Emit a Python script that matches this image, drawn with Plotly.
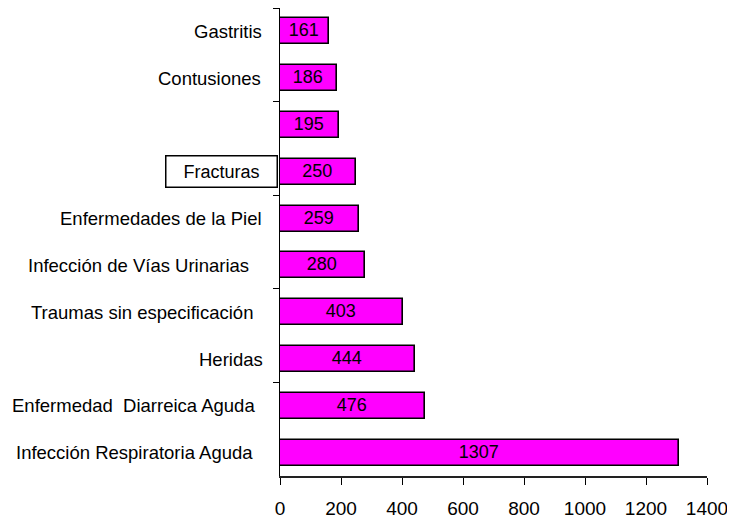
import plotly.graph_objects as go

# Data (top to bottom as displayed)
categories = [
    "Gastritis",
    "Contusiones",
    "",
    "Fracturas",
    "Enfermedades de la Piel",
    "Infección de Vías Urinarias",
    "Traumas sin especificación",
    "Heridas",
    "Enfermedad  Diarreica Aguda",
    "Infección Respiratoria Aguda",
]
values = [161, 186, 195, 250, 259, 280, 403, 444, 476, 1307]
x_ticks = [0, 200, 400, 600, 800, 1000, 1200, 1400]

# style: right-edge gap (px) of each category label from the axis
label_gap = [18, 19, 0, 2, 18, 31, 27, 17, 25, 27]
boxed = "Fracturas"

n = len(categories)
ypos = [n - 1 - i for i in range(n)]  # bottom-based positions

FONT = "Liberation Sans, Arial, sans-serif"

fig = go.Figure()
fig.add_trace(go.Bar(
    x=values, y=ypos, orientation="h",
    width=0.555,
    marker=dict(color="#FF00FF", line=dict(color="black", width=1.6)),
    text=[str(v) for v in values],
    textposition="inside", insidetextanchor="middle",
    textangle=0, constraintext="none",
    textfont=dict(family=FONT, size=18, color="black"),
    hoverinfo="skip",
))
# invisible trace to carry the secondary y axis for the category tick marks
fig.add_trace(go.Scatter(x=[None], y=[None], yaxis="y2", showlegend=False))

annotations = []
for cat, y, gap in zip(categories, ypos, label_gap):
    if not cat:
        continue
    if cat == boxed:
        annotations.append(dict(
            x=0, y=y, xref="x", yref="y", text=cat, showarrow=False,
            xanchor="right", yanchor="middle", xshift=-gap,
            font=dict(family=FONT, size=18, color="black"),
            bordercolor="black", borderwidth=1.5, borderpad=2,
            width=106, height=26, align="center", bgcolor="white",
        ))
    else:
        annotations.append(dict(
            x=0, y=y, xref="x", yref="y", text=cat, showarrow=False,
            xanchor="right", yanchor="middle", xshift=-gap + 2,
            font=dict(family=FONT, size=18.5, color="black"),
        ))

fig.update_layout(
    width=727, height=510,
    margin=dict(l=272, r=28, t=0, b=42, autoexpand=False),
    paper_bgcolor="white", plot_bgcolor="white",
    showlegend=False,
    bargap=0,
    font=dict(family=FONT, color="black"),
    xaxis=dict(
        range=[0, 1400], tickvals=x_ticks, ticktext=[str(t) for t in x_ticks],
        showgrid=False, zeroline=False,
        showline=True, linecolor="#222222", linewidth=1.5,
        ticks="outside", ticklen=7, tickcolor="black", tickwidth=1,
        ticklabelstandoff=7,
        tickfont=dict(family=FONT, size=19, color="black"),
        fixedrange=True,
    ),
    yaxis=dict(
        range=[-0.5, n - 0.5], showticklabels=False, ticks="",
        showgrid=False, zeroline=False,
        showline=True, linecolor="black", linewidth=1.2,
        fixedrange=True,
    ),
    yaxis2=dict(
        range=[-0.5, n - 0.5], overlaying="y", side="left",
        tickvals=[1.5, 3.5, 5.5, 7.5, 9.5], showticklabels=False,
        ticks="outside", ticklen=6, tickcolor="black", tickwidth=1,
        showgrid=False, zeroline=False, showline=False,
        fixedrange=True,
    ),
    annotations=annotations,
)

fig.write_html("out.html")
